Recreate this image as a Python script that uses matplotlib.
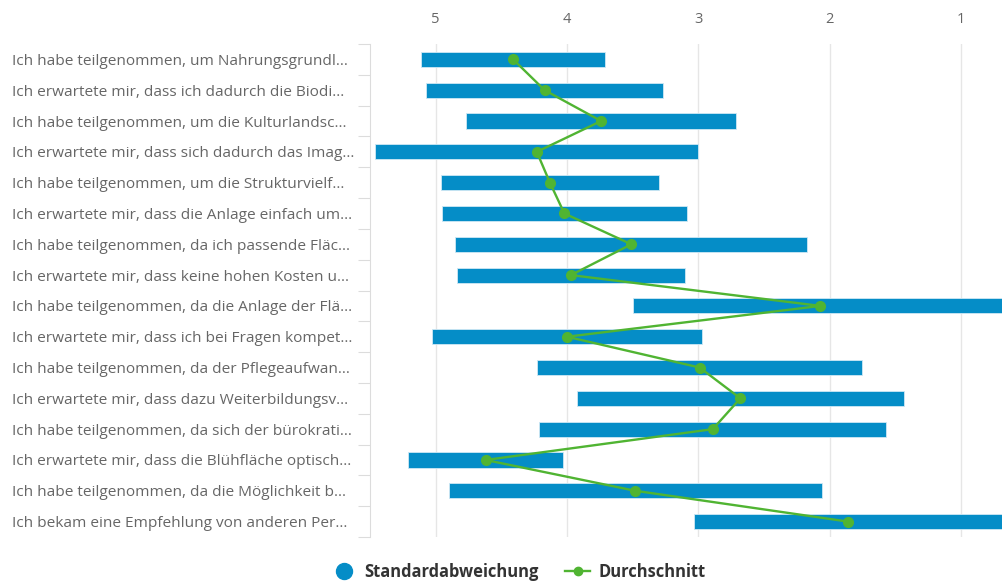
import numpy as np
import matplotlib
matplotlib.use("Agg")
import matplotlib.pyplot as plt
from matplotlib.lines import Line2D

# category labels (truncated as in the original)
labels = [
    "Ich habe teilgenommen, um Nahrungsgrundl...",
    "Ich erwartete mir, dass ich dadurch die Biodi...",
    "Ich habe teilgenommen, um die Kulturlandsc...",
    "Ich erwartete mir, dass sich dadurch das Imag...",
    "Ich habe teilgenommen, um die Strukturvielf...",
    "Ich erwartete mir, dass die Anlage einfach um...",
    "Ich habe teilgenommen, da ich passende Fläc...",
    "Ich erwartete mir, dass keine hohen Kosten u...",
    "Ich habe teilgenommen, da die Anlage der Flä...",
    "Ich erwartete mir, dass ich bei Fragen kompet...",
    "Ich habe teilgenommen, da der Pflegeaufwan...",
    "Ich erwartete mir, dass dazu Weiterbildungsv...",
    "Ich habe teilgenommen, da sich der bürokrati...",
    "Ich erwartete mir, dass die Blühfläche optisch...",
    "Ich habe teilgenommen, da die Möglichkeit b...",
    "Ich bekam eine Empfehlung von anderen Per...",
]
# Durchschnitt (mean) and Standardabweichung (sd)
mean = [4.41, 4.17, 3.74, 4.23, 4.13, 4.02, 3.51, 3.97,
        2.07, 4.00, 2.99, 2.68, 2.89, 4.62, 3.48, 1.86]
sd = [0.70, 0.90, 1.03, 1.23, 0.83, 0.93, 1.34, 0.87,
      1.43, 1.03, 1.24, 1.245, 1.32, 0.59, 1.42, 1.17]
xticks = [5, 4, 3, 2, 1]

blue = "#058DC7"
green = "#50B432"
txt = "#666666"

plt.rcParams['font.family'] = ['Open Sans', 'DejaVu Sans']

mean = np.array(mean)
sd = np.array(sd)
y = np.arange(len(labels))

fig = plt.figure(figsize=(10.03, 5.83), dpi=100)
ax = fig.add_axes([370/1003, 1 - 537/583, 1 - 370/1003, (537 - 44)/583])

ax.barh(y, 2 * sd, left=mean - sd, height=0.49, color=blue,
        edgecolor="#cfe8f4", linewidth=0.6, zorder=2)
ax.plot(mean, y, color=green, lw=1.7, marker="o", ms=7, zorder=3)

ax.set_xlim(5.5, 0.68)
ax.set_ylim(len(labels) - 0.5, -0.5)

ax.xaxis.tick_top()
ax.set_xticks(xticks)
ax.set_xticklabels([str(t) for t in xticks])
ax.tick_params(axis="x", length=0, pad=12, labelsize=10.5, labelcolor=txt)
ax.grid(axis="x", color="#e6e6e6", lw=1, zorder=0)

ax.set_yticks(y)
ax.set_yticklabels(labels)
ax.set_yticks(np.arange(len(labels) + 1) - 0.5, minor=True)
ax.tick_params(axis="y", which="major", length=0, pad=258, labelsize=11.05, labelcolor=txt)
ax.tick_params(axis="y", which="minor", length=8.5, color="#dcdcdc", width=0.8)
for t in ax.get_yticklabels():
    t.set_horizontalalignment("left")

for s in ["top", "right", "bottom"]:
    ax.spines[s].set_visible(False)
ax.spines["left"].set_color("#dcdcdc")
ax.spines["left"].set_linewidth(0.8)

handles = [
    Line2D([], [], color=blue, marker="o", ls="none", ms=11.5),
    Line2D([], [], color=green, marker="o", lw=1.7, ms=6),
]
fig.legend(handles, ["Standardabweichung", "Durchschnitt"], loc="center",
           bbox_to_anchor=(0.517, 1 - 572/583), ncol=2, frameon=False,
           prop={"weight": "bold", "size": 11.9}, labelcolor="#333333",
           handlelength=1.5, columnspacing=1.6, handletextpad=0.5)

fig.savefig("out.png", dpi=100)
